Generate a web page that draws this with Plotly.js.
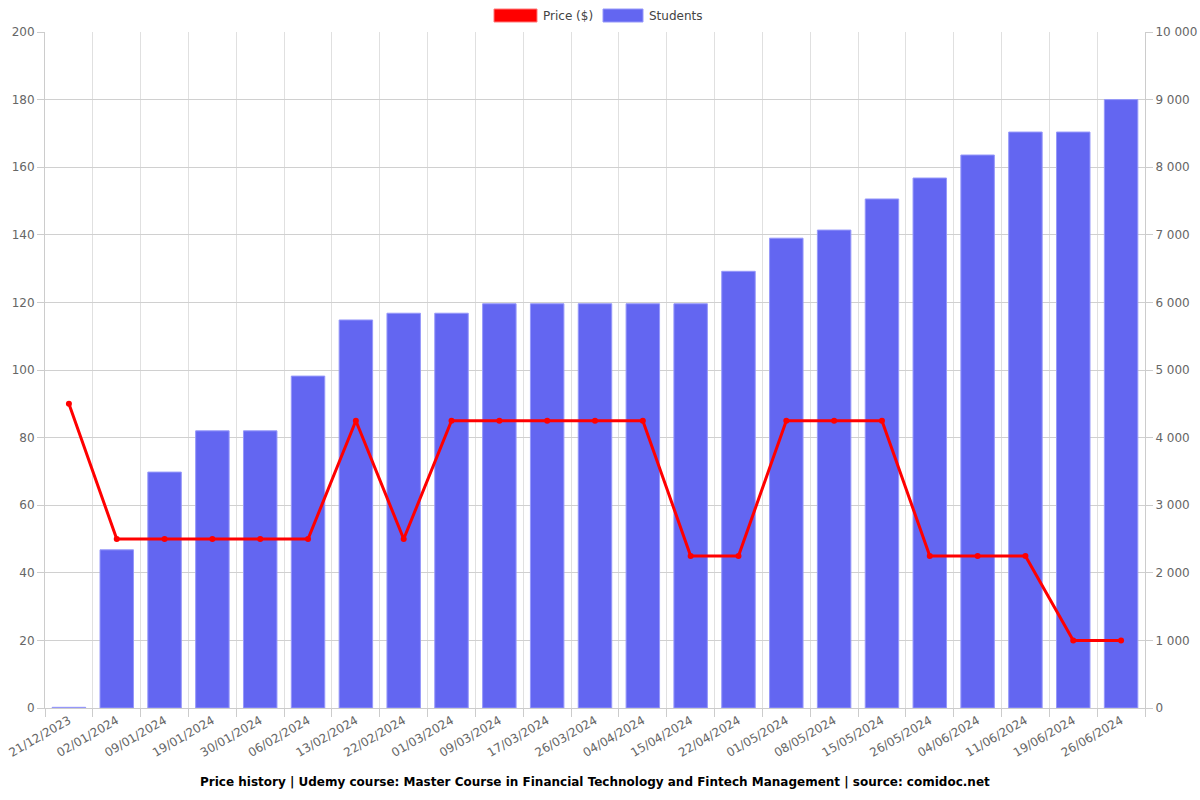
<!DOCTYPE html>
<html>
<head>
<meta charset="utf-8">
<script src="https://cdn.plot.ly/plotly-3.0.1.min.js"></script>
<style>html,body{margin:0;padding:0;background:#fff;}#chart{width:1200px;height:800px;}</style>
</head>
<body>
<div id="chart"></div>
<script>
const dates = ["21/12/2023","02/01/2024","09/01/2024","19/01/2024","30/01/2024","06/02/2024","13/02/2024","22/02/2024","01/03/2024","09/03/2024","17/03/2024","26/03/2024","04/04/2024","15/04/2024","22/04/2024","01/05/2024","08/05/2024","15/05/2024","26/05/2024","04/06/2024","11/06/2024","19/06/2024","26/06/2024"];
const price = [90,50,50,50,50,50,85,50,85,85,85,85,85,45,45,85,85,85,45,45,45,20,20];
const students = [10,2340,3490,4100,4100,4910,5740,5840,5840,5980,5980,5980,5980,5980,6460,6950,7070,7530,7840,8180,8520,8520,9000];
const seriesNames = ["Price ($)", "Students"];
const titleText = "Price history | Udemy course: Master Course in Financial Technology and Fintech Management | source: comidoc.net";

const ML = 45, MR = 55, MT = 32, MB = 92, W = 1200, H = 800;
const PW = W - ML - MR, PH = H - MT - MB;
const px = v => (v - ML) / PW;
const py = v => (H - MB - v) / PH;

const traces = [
  {type: "bar", x: dates, y: students, name: seriesNames[1], yaxis: "y", showlegend: false,
   marker: {color: "rgb(99,102,241)", line: {color: "rgba(150,152,250,1)", width: 1}}},
  {type: "scatter", mode: "lines+markers", x: dates, y: price, name: seriesNames[0], yaxis: "y2", showlegend: false,
   line: {color: "#ff0000", width: 3}, marker: {color: "#ff0000", size: 6}}
];

const legFont = {family: "DejaVu Sans, sans-serif", size: 12, color: "#444"};

const layout = {
  width: W, height: H,
  margin: {l: ML, r: MR, t: MT, b: MB, autoexpand: false},
  paper_bgcolor: "#fff", plot_bgcolor: "#fff",
  font: {family: "DejaVu Sans, sans-serif", size: 12, color: "#666"},
  separators: ". ",
  bargap: 0.3,
  showlegend: false,
  xaxis: {
    type: "category", tickson: "boundaries", showgrid: true, gridcolor: "#e0e0e0",
    ticks: "outside", ticklen: 8, tickcolor: "#ccc", tickangle: -30,
    showline: true, linecolor: "#ccc", tickfont: {size: 12, color: "#666"},
    range: [-0.5, dates.length - 0.5]
  },
  yaxis: {
    side: "right", range: [0, 10000], dtick: 1000, tick0: 0, tickformat: ",d", separatethousands: true,
    showgrid: true, gridcolor: "#d0d0d0", zeroline: false,
    ticks: "outside", ticklen: 7, tickcolor: "#ccc", showline: true, linecolor: "#ccc",
    tickfont: {size: 12, color: "#666"}
  },
  yaxis2: {
    side: "left", overlaying: "y", range: [0, 200], dtick: 20, tick0: 0,
    showgrid: false, zeroline: false,
    ticks: "outside", ticklen: 7, tickcolor: "#ccc", showline: true, linecolor: "#ccc",
    tickfont: {size: 12, color: "#666"}
  },
  shapes: [
    {type: "rect", xref: "paper", yref: "paper", x0: px(494), x1: px(537), y0: py(22), y1: py(9),
     fillcolor: "#ff0000", line: {color: "rgba(255,120,120,1)", width: 1}},
    {type: "rect", xref: "paper", yref: "paper", x0: px(603), x1: px(643), y0: py(22), y1: py(9),
     fillcolor: "rgb(99,102,241)", line: {color: "rgba(150,152,250,1)", width: 1}}
  ],
  annotations: [
    {text: seriesNames[0], xref: "paper", yref: "paper", x: px(541), y: py(15.5), xanchor: "left", yanchor: "middle",
     showarrow: false, font: legFont},
    {text: seriesNames[1], xref: "paper", yref: "paper", x: px(647), y: py(15.5), xanchor: "left", yanchor: "middle",
     showarrow: false, font: legFont},
    {text: "<b>" + titleText + "</b>", xref: "paper", yref: "paper", x: 0.5, y: 0, yshift: -74,
     xanchor: "center", yanchor: "middle", showarrow: false,
     font: {family: "DejaVu Sans, sans-serif", size: 12, color: "#000"}}
  ]
};

Plotly.newPlot("chart", traces, layout, {displayModeBar: false, staticPlot: true});
</script>
</body>
</html>
